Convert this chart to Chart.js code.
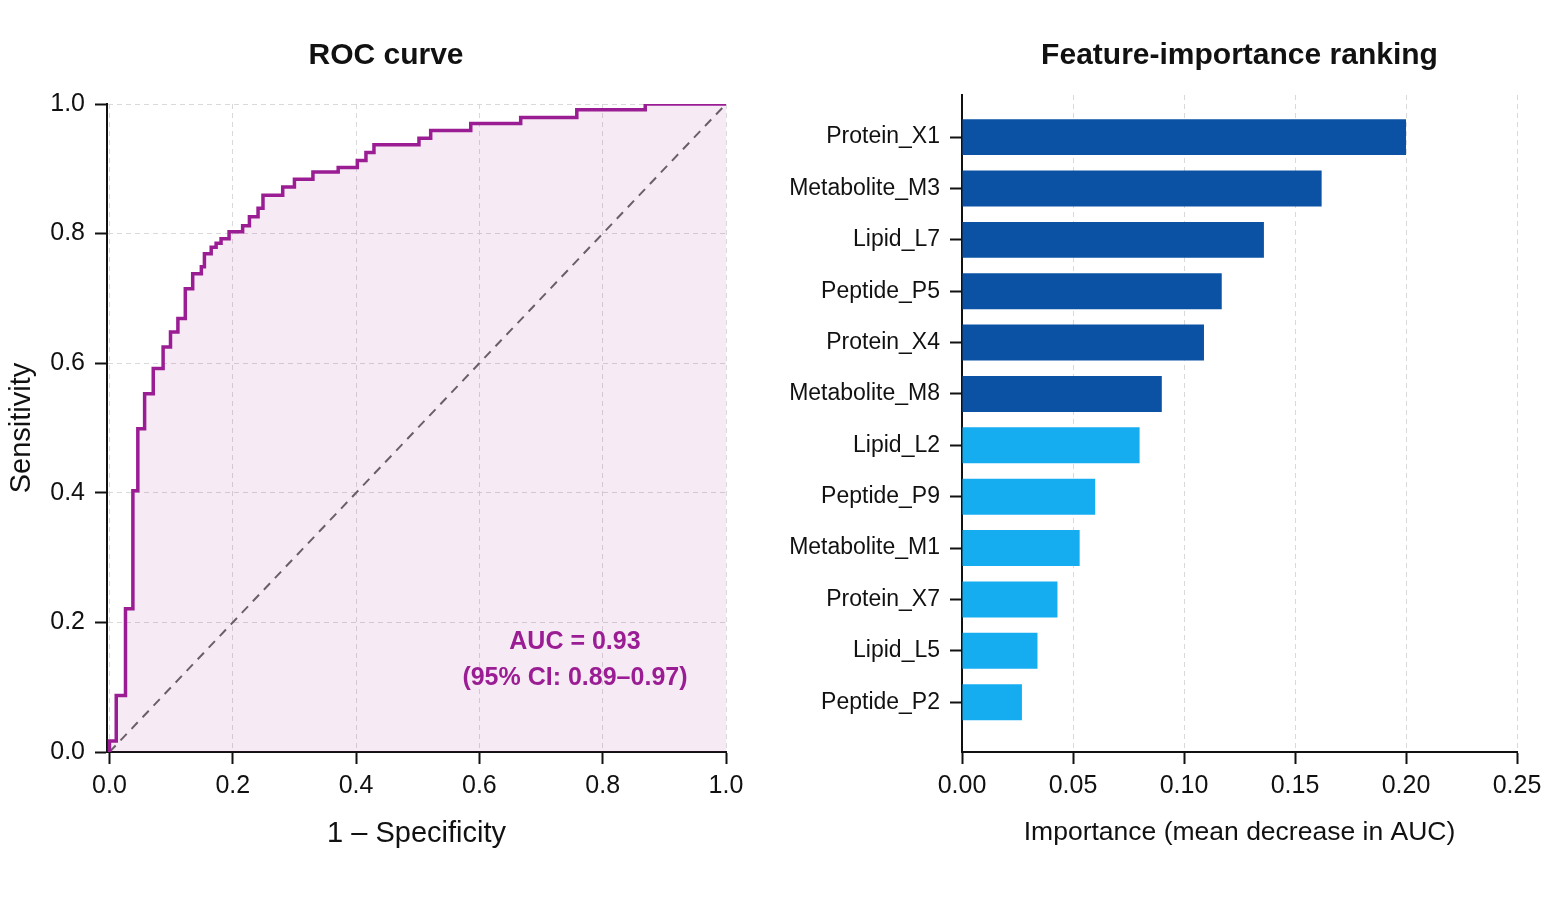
<!DOCTYPE html>
<html>
<head>
<meta charset="utf-8">
<title>ROC curve and feature importance</title>
<script src="https://cdn.jsdelivr.net/npm/chart.js@4.4.1/dist/chart.umd.min.js"></script>
<style>
  html, body { margin: 0; padding: 0; background: #fff; }
  #wrap { position: relative; width: 1554px; height: 905px; }
  .panel { position: absolute; top: 0; }
  #rocPanel { left: 0; }
  #impPanel { left: 772px; }
</style>
</head>
<body>
<div id="wrap">
  <div class="panel" id="rocPanel"><canvas id="rocChart" width="772" height="905"></canvas></div>
  <div class="panel" id="impPanel"><canvas id="impChart" width="782" height="905"></canvas></div>
</div>
<script>
// ROC staircase corners (1 - specificity, sensitivity)
const rocFpr = [0, 0, 0.011, 0.026, 0.038, 0.046, 0.057, 0.071, 0.087, 0.099, 0.111, 0.123,
  0.135, 0.149, 0.154, 0.165, 0.173, 0.181, 0.194, 0.216, 0.227, 0.241, 0.249, 0.281,
  0.300, 0.330, 0.371, 0.402, 0.416, 0.429, 0.502, 0.521, 0.586, 0.667, 0.758, 0.869, 1.0];
const rocTpr = [0, 0.017, 0.087, 0.221, 0.403, 0.499, 0.553, 0.592, 0.625, 0.648, 0.669, 0.715,
  0.738, 0.749, 0.769, 0.779, 0.785, 0.792, 0.803, 0.812, 0.826, 0.839, 0.859, 0.872,
  0.884, 0.895, 0.902, 0.913, 0.925, 0.937, 0.947, 0.959, 0.970, 0.979, 0.991, 1.0, 1.0];
const chanceFpr = [0, 1];
const chanceTpr = [0, 1];
const rocTicks = [0, 0.2, 0.4, 0.6, 0.8, 1.0];
const aucLines = ['AUC = 0.93', '(95% CI: 0.89\u20130.97)'];

// feature importance, ranked
const features = ['Protein_X1', 'Metabolite_M3', 'Lipid_L7', 'Peptide_P5', 'Protein_X4', 'Metabolite_M8',
  'Lipid_L2', 'Peptide_P9', 'Metabolite_M1', 'Protein_X7', 'Lipid_L5', 'Peptide_P2'];
const importance = [0.200, 0.162, 0.136, 0.117, 0.109, 0.090, 0.080, 0.060, 0.053, 0.043, 0.034, 0.027];
const importanceTicks = [0, 0.05, 0.10, 0.15, 0.20, 0.25];
const topTier = 6;

const FONT = '"Liberation Sans", Arial, Helvetica, sans-serif';
const INK = '#111';
const purple = '#9b1d94';
Chart.defaults.font.family = FONT;
Chart.defaults.color = INK;

// AUC annotation, placed in data coordinates
const aucLabel = {
  id: 'aucLabel',
  afterDatasetsDraw(chart) {
    const { ctx, scales: { x, y } } = chart;
    ctx.save();
    ctx.font = 'bold 25px ' + FONT;
    ctx.fillStyle = purple;
    ctx.textAlign = 'center';
    ctx.textBaseline = 'middle';
    const cx = x.getPixelForValue(0.755);
    ctx.fillText(aucLines[0], cx, y.getPixelForValue(0.170));
    ctx.fillText(aucLines[1], cx, y.getPixelForValue(0.114));
    ctx.restore();
  }
};

function gridOpts() {
  return { color: '#d9d9d9', lineWidth: 1, tickColor: INK, tickLength: 12, tickWidth: 2, offset: false };
}

new Chart(document.getElementById('rocChart'), {
  type: 'line',
  data: {
    datasets: [
      {
        label: 'ROC',
        data: rocFpr.map((x, i) => ({ x, y: rocTpr[i] })),
        stepped: true,
        borderColor: purple,
        borderWidth: 3.5,
        backgroundColor: 'rgba(155, 29, 148, 0.09)',
        fill: 'origin',
        pointRadius: 0
      },
      {
        label: 'Chance',
        data: chanceFpr.map((x, i) => ({ x, y: chanceTpr[i] })),
        borderColor: '#666',
        borderWidth: 2,
        borderDash: [9, 7],
        fill: false,
        pointRadius: 0
      }
    ]
  },
  options: {
    responsive: false,
    animation: false,
    layout: { padding: 0 },
    plugins: {
      legend: { display: false },
      tooltip: { enabled: false },
      title: {
        display: true, text: 'ROC curve', color: INK,
        font: { size: 30, weight: 'bold' },
        padding: { top: 38, bottom: 30 }
      }
    },
    scales: {
      x: {
        type: 'linear', min: -0.004, max: 1,
        afterBuildTicks: s => { s.ticks = rocTicks.map(v => ({ value: v })); },
        ticks: { callback: v => v.toFixed(1), font: { size: 25 }, color: INK, padding: 7, maxRotation: 0 },
        grid: gridOpts(),
        border: { color: INK, width: 2, dash: [5, 4] },
        title: { display: true, text: '1 \u2013 Specificity', font: { size: 29 }, color: INK, padding: { bottom: 54 } },
        afterFit: s => { s.height = 153; }
      },
      y: {
        type: 'linear', min: 0, max: 1,
        afterBuildTicks: s => { s.ticks = rocTicks.map(v => ({ value: v })); },
        ticks: { callback: v => v.toFixed(1), font: { size: 25 }, color: INK, padding: 10 },
        grid: gridOpts(),
        border: { color: INK, width: 2, dash: [5, 4] },
        title: { display: true, text: 'Sensitivity', font: { size: 29 }, color: INK, padding: { top: 5 } },
        afterFit: s => { s.width = 107; }
      },
      // empty right-hand gutter so the title stays centred on the whole panel
      gutter: {
        type: 'linear', position: 'right', display: true,
        ticks: { display: false }, grid: { display: false }, border: { display: false },
        afterFit: s => { s.width = 46; }
      }
    }
  },
  plugins: [aucLabel]
});

new Chart(document.getElementById('impChart'), {
  type: 'bar',
  data: {
    datasets: [{
      label: 'Importance',
      data: features.map((f, i) => ({ x: importance[i], y: i })),
      backgroundColor: features.map((f, i) => i < topTier ? '#0b52a5' : '#16adf0'),
      borderWidth: 0,
      categoryPercentage: 0.8,
      barPercentage: 0.875
    }]
  },
  options: {
    indexAxis: 'y',
    responsive: false,
    animation: false,
    layout: { padding: { left: 0, right: 37, top: 0, bottom: 0 } },
    plugins: {
      legend: { display: false },
      tooltip: { enabled: false },
      title: {
        display: true, text: 'Feature-importance ranking', color: INK, fullSize: false,
        font: { size: 30, weight: 'bold' },
        padding: { top: 38, bottom: 21 }
      }
    },
    scales: {
      x: {
        type: 'linear', min: 0, max: 0.25,
        afterBuildTicks: s => { s.ticks = importanceTicks.map(v => ({ value: v })); },
        ticks: { callback: v => v.toFixed(2), font: { size: 25 }, color: INK, padding: 7, maxRotation: 0 },
        grid: gridOpts(),
        border: { color: INK, width: 2, dash: [5, 4] },
        title: { display: true, text: 'Importance (mean decrease in AUC)', font: { size: 26.5 }, color: INK, padding: { bottom: 56 } },
        afterFit: s => { s.height = 153; }
      },
      y: {
        type: 'linear', reverse: true, min: -0.82, max: 11.97, offset: false,
        afterBuildTicks: s => { s.ticks = features.map((f, i) => ({ value: i })); },
        ticks: { callback: v => features[v], font: { size: 23 }, color: INK, padding: 10, autoSkip: false },
        grid: Object.assign(gridOpts(), { drawOnChartArea: false }),
        border: { color: INK, width: 2 },
        afterFit: s => { s.width = 190; }
      }
    }
  }
});
</script>
</body>
</html>
